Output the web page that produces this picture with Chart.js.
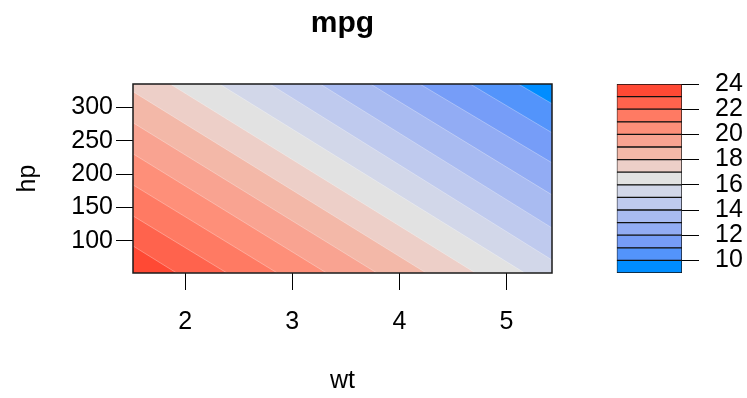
<!DOCTYPE html>
<html>
<head>
<meta charset="utf-8">
<script src="https://cdn.jsdelivr.net/npm/chart.js@4.4.0/dist/chart.umd.min.js"></script>
<style>
  body { margin: 0; background: #fff; }
  #wrap { position: relative; width: 747px; height: 398px; background: #fff; }
  #plot { position: absolute; left: 0; top: 0; }
  #key  { position: absolute; left: 590px; top: 0; }
</style>
</head>
<body>
<div id="wrap">
  <canvas id="plot" width="600" height="398"></canvas>
  <canvas id="key" width="157" height="398"></canvas>
</div>
<script>
// limites dos eixos (wt x hp)
const xMin = 1.513, xMax = 5.424;
const yMin = 52, yMax = 335;
const xTicks = [2, 3, 4, 5];
const yTicks = [100, 150, 200, 250, 300];

// níveis da escala de cores (9 a 24, de 1 em 1)
const levels = [9, 10, 11, 12, 13, 14, 15, 16, 17, 18, 19, 20, 21, 22, 23, 24];
const keyTicks = [10, 12, 14, 16, 18, 20, 22, 24];
// cor de cada faixa, da mais baixa (9-10) para a mais alta (23-24)
const bandColors = [
  '#008DFF', '#5394FB', '#769DF8', '#92ACF4', '#A9BBF1',
  '#BFCAEE', '#D2D7E9', '#E2E2E2', '#EDCFC8', '#F3B8A8',
  '#F9A391', '#FE8F79', '#FF7A63', '#FF634D', '#FF4934'
];

// linhas de contorno: ponto de entrada e de saída na caixa
const contourLevels = [10, 11, 12, 13, 14, 15, 16, 17, 18, 19, 20, 21, 22, 23];
const lineStartWt = [5.11, 4.66, 4.19, 3.73, 3.26, 2.79, 2.32, 1.86, 1.513, 1.513, 1.513, 1.513, 1.513, 1.513];
const lineStartHp = [335, 335, 335, 335, 335, 335, 335, 335, 323.5, 277, 230.5, 184, 137.5, 92.5];
const lineEndWt   = [5.424, 5.424, 5.424, 5.424, 5.424, 5.424, 5.17, 4.71, 4.25, 3.79, 3.32, 2.86, 2.39, 1.92];
const lineEndHp   = [305.5, 262, 217, 169, 119.5, 71.5, 52, 52, 52, 52, 52, 52, 52, 52];

Chart.defaults.font.family = '"Liberation Sans", Arial, Helvetica, sans-serif';
Chart.defaults.color = '#000';

// monta as regiões: cada contorno pinta a área acima dele (mpg < nível)
const regionDatasets = contourLevels.map((lev, i) => {
  const pts = [
    { x: lineStartWt[i], y: lineStartHp[i] },
    { x: lineEndWt[i],   y: lineEndHp[i] }
  ];
  // se sai pela base, fecha pelo canto inferior direito
  if (lineEndHp[i] === yMin) pts.push({ x: xMax, y: yMin });
  return {
    data: pts,
    showLine: true,
    fill: 'end',
    backgroundColor: bandColors[levels.indexOf(lev) - 1],
    borderColor: 'rgba(255,255,255,0.3)',
    borderWidth: 1,
    pointRadius: 0
  };
});
// fundo: faixa mais alta cobre tudo
regionDatasets.push({
  data: [{ x: xMin, y: yMin }, { x: xMax, y: yMin }],
  showLine: true,
  fill: 'end',
  backgroundColor: bandColors[bandColors.length - 1],
  borderWidth: 0,
  pointRadius: 0
});

const boxPlugin = {
  id: 'box',
  afterDatasetsDraw(chart) {
    const a = chart.chartArea, ctx = chart.ctx;
    ctx.save();
    ctx.strokeStyle = '#1a1a1a';
    ctx.lineWidth = 1.5;
    ctx.strokeRect(a.left, a.top, a.right - a.left, a.bottom - a.top);
    ctx.restore();
  }
};

new Chart(document.getElementById('plot'), {
  type: 'scatter',
  data: { datasets: regionDatasets },
  plugins: [boxPlugin],
  options: {
    responsive: false,
    animation: false,
    devicePixelRatio: 1,
    layout: { padding: { left: 0, right: 48, top: 0, bottom: 0 } },
    plugins: {
      legend: { display: false },
      tooltip: { enabled: false },
      title: {
        display: true,
        text: 'mpg',
        fullSize: false,
        color: '#000',
        font: { size: 30, weight: 'bold' },
        padding: { top: 6, bottom: 42 }
      }
    },
    scales: {
      x: {
        type: 'linear',
        min: xMin,
        max: xMax,
        afterBuildTicks: s => { s.ticks = xTicks.map(v => ({ value: v })); },
        afterFit: s => { s.height = 125; },
        grid: { drawOnChartArea: false, drawTicks: true, tickLength: 17, tickColor: '#000', tickWidth: 1 },
        border: { display: false },
        ticks: { font: { size: 25 }, color: '#000', padding: 17, maxRotation: 0, autoSkip: false },
        title: { display: true, text: 'wt', font: { size: 25 }, color: '#000', padding: { bottom: 2 } }
      },
      y: {
        type: 'linear',
        min: yMin,
        max: yMax,
        afterBuildTicks: s => { s.ticks = yTicks.map(v => ({ value: v })); },
        afterFit: s => { s.width = 133; },
        grid: { drawOnChartArea: false, drawTicks: true, tickLength: 17, tickColor: '#000', tickWidth: 1 },
        border: { display: false },
        ticks: { font: { size: 25 }, color: '#000', padding: 3, autoSkip: false },
        title: { display: true, text: 'hp', font: { size: 25 }, color: '#000', padding: { top: 13 } }
      }
    }
  }
});

// chave de cores
const keyDatasets = bandColors.map((c, i) => ({
  data: [[levels[i], levels[i + 1]]],
  backgroundColor: c,
  borderColor: '#111',
  borderWidth: 1,
  borderSkipped: false,
  grouped: false,
  barPercentage: 1,
  categoryPercentage: 1
}));

new Chart(document.getElementById('key'), {
  type: 'bar',
  data: { labels: ['mpg'], datasets: keyDatasets },
  options: {
    responsive: false,
    animation: false,
    devicePixelRatio: 1,
    layout: { padding: { left: 26.7, right: 0, top: 84, bottom: 125 } },
    plugins: { legend: { display: false }, tooltip: { enabled: false }, title: { display: false } },
    scales: {
      x: { display: false },
      y: {
        position: 'right',
        min: 9,
        max: 24,
        afterBuildTicks: s => { s.ticks = keyTicks.map(v => ({ value: v })); },
        afterFit: s => { s.width = 65; },
        grid: { drawOnChartArea: false, drawTicks: true, tickLength: 17, tickColor: '#000', tickWidth: 1 },
        border: { display: false },
        ticks: { font: { size: 25, lineHeight: 1 }, color: '#000', padding: 16, autoSkip: false }
      }
    }
  }
});
</script>
</body>
</html>
